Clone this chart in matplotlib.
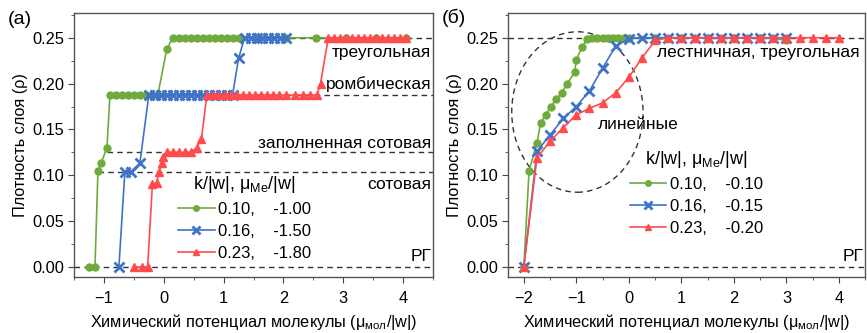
import numpy as np
import matplotlib
matplotlib.use("Agg")
import matplotlib.pyplot as plt
from matplotlib.patches import Ellipse
from matplotlib.ticker import MultipleLocator

plt.rcParams["font.family"] = ["Liberation Sans", "DejaVu Sans"]
plt.rcParams["mathtext.fontset"] = "custom"
plt.rcParams["mathtext.rm"] = "Liberation Sans"
plt.rcParams["mathtext.it"] = "Liberation Sans"
plt.rcParams["mathtext.default"] = "regular"

GREEN = "#6FAB3C"
BLUE = "#3F73C8"
RED = "#FF4B4E"

# ---- panel (a) data ----
a_green_x = [-1.25, -1.15, -1.1, -1.05, -0.95,
             -0.9, -0.8, -0.7, -0.6, -0.5, -0.4, -0.3, -0.2, -0.1,
             0.05,
             0.15, 0.25, 0.35, 0.45, 0.55, 0.65, 0.75, 0.85, 0.95, 1.05, 1.15, 1.25,
             1.55, 2.05, 2.55, 3.05, 3.55, 4.05]
a_green_y = [0, 0, 0.105, 0.113, 0.13,
             0.1875, 0.1875, 0.1875, 0.1875, 0.1875, 0.1875, 0.1875, 0.1875, 0.1875,
             0.2375,
             0.25, 0.25, 0.25, 0.25, 0.25, 0.25, 0.25, 0.25, 0.25, 0.25, 0.25, 0.25,
             0.25, 0.25, 0.25, 0.25, 0.25, 0.25]

a_blue_x = [-0.75, -0.65, -0.55, -0.4,
            -0.25, -0.15, -0.05, 0.05, 0.15, 0.25, 0.35, 0.45, 0.55, 0.65, 0.75,
            0.85, 0.95, 1.05, 1.15,
            1.25,
            1.35, 1.45, 1.55, 1.65, 1.75, 1.85, 1.95, 2.05]
a_blue_y = [0, 0.104, 0.104, 0.113,
            0.1875, 0.1875, 0.1875, 0.1875, 0.1875, 0.1875, 0.1875, 0.1875, 0.1875,
            0.1875, 0.1875, 0.1875, 0.1875, 0.1875, 0.1875,
            0.2275,
            0.25, 0.25, 0.25, 0.25, 0.25, 0.25, 0.25, 0.25]

a_red_x = [-0.5, -0.37, -0.27, -0.19, -0.12, -0.08, -0.03, -0.01,
           0.05, 0.15, 0.25, 0.35, 0.45, 0.55, 0.63,
           0.72, 0.82, 0.92, 1.02, 1.12, 1.22, 1.32, 1.42, 1.52, 1.62, 1.72,
           1.82, 1.92, 2.05, 2.2, 2.32, 2.45, 2.56,
           2.62,
           2.75, 2.85, 2.95, 3.05, 3.15, 3.25, 3.35, 3.45, 3.55, 3.65, 3.75,
           3.85, 3.95, 4.05]
a_red_y = [0, 0, 0, 0.09, 0.092, 0.104, 0.113, 0.12,
           0.125, 0.125, 0.125, 0.125, 0.125, 0.13, 0.14,
           0.1875, 0.1875, 0.1875, 0.1875, 0.1875, 0.1875, 0.1875, 0.1875, 0.1875,
           0.1875, 0.1875, 0.1875, 0.1875, 0.1875, 0.1875, 0.1875, 0.1875, 0.1875,
           0.2,
           0.25, 0.25, 0.25, 0.25, 0.25, 0.25, 0.25, 0.25, 0.25, 0.25, 0.25,
           0.25, 0.25, 0.25]

a_levels = [0.25, 0.1875, 0.125, 0.104, 0.0]
a_level_start = [0.15, -0.9, -0.95, -1.1, -1.5]
a_level_names = ["треугольная", "ромбическая", "заполненная сотовая", "сотовая", "РГ"]
a_name_y = [0.234, 0.199, 0.135, 0.09, 0.011]
a_legend = ["0.10,    -1.00", "0.16,    -1.50", "0.23,    -1.80"]

# ---- panel (б) data ----
b_green_x = [-2.0, -1.9, -1.75, -1.68, -1.58, -1.49, -1.38, -1.28, -1.17, -1.03, -1.0,
             -0.89, -0.79, -0.7, -0.6, -0.5, -0.4, -0.3, -0.2, -0.1, 0.0,
             0.5, 1.0, 1.5, 2.0, 2.5, 3.0]
b_green_y = [0, 0.105, 0.135, 0.157, 0.166, 0.175, 0.183, 0.190, 0.200, 0.213, 0.226,
             0.240, 0.249, 0.25, 0.25, 0.25, 0.25, 0.25, 0.25, 0.25, 0.25,
             0.25, 0.25, 0.25, 0.25, 0.25, 0.2475]

b_blue_x = [-2.0, -1.75, -1.5, -1.25, -1.0, -0.75, -0.5, -0.25, 0.0,
            0.25, 0.5, 0.75, 1.0, 1.25, 1.5, 1.75, 2.0, 2.25, 2.5, 2.75, 3.0]
b_blue_y = [0, 0.126, 0.144, 0.162, 0.175, 0.192, 0.217, 0.241, 0.249,
            0.25, 0.25, 0.25, 0.25, 0.25, 0.25, 0.25, 0.25, 0.25, 0.25, 0.25, 0.25]

b_red_x = [-2.0, -1.75, -1.5, -1.25, -1.0, -0.75, -0.5, -0.25, 0.0, 0.25, 0.5,
           0.75, 1.0, 1.25, 1.5, 1.75, 2.0, 2.25, 2.5, 2.75, 3.0, 3.25, 3.5, 3.75, 4.0]
b_red_y = [0, 0.119, 0.137, 0.152, 0.166, 0.173, 0.179, 0.190, 0.207, 0.228, 0.247,
           0.25, 0.25, 0.25, 0.25, 0.25, 0.25, 0.25, 0.25, 0.25, 0.25, 0.25, 0.25, 0.25, 0.25]
b_legend = ["0.10,    -0.10", "0.16,    -0.15", "0.23,    -0.20"]

TICK_FS = 11.8
LABEL_FS = 11.7
NOTE_FS = 12.5
LEG_FS = 12
TITLE_FS = 13
PANEL_FS = 14
legend_title = r"k/|w|, $\mu_{Me}$/|w|"
xlabel = r"Химический потенциал молекулы ($\mu_{мол}$/|w|)"
ylabel = "Плотность слоя (ρ)"


def style_axis(ax, xlim, xticks):
    ax.set_xlim(*xlim)
    ax.set_ylim(-0.011, 0.277)
    ax.set_xticks(xticks)
    ax.set_yticks([0, 0.05, 0.10, 0.15, 0.20, 0.25])
    ax.xaxis.set_minor_locator(MultipleLocator(0.5))
    ax.yaxis.set_minor_locator(MultipleLocator(0.025))
    ax.tick_params(which="both", direction="out", top=False, right=False,
                   labelsize=TICK_FS, color="#444444")
    ax.tick_params(axis="x", pad=6)
    ax.tick_params(axis="y", pad=3)
    ax.tick_params(which="major", length=4)
    ax.tick_params(which="minor", length=2.5)
    for s in ax.spines.values():
        s.set_color("#555555")
        s.set_linewidth(1.0)
    ax.set_xlabel(xlabel, fontsize=LABEL_FS, labelpad=4)
    ax.set_ylabel(ylabel, fontsize=LABEL_FS, labelpad=3)


def plot_series(ax, gx, gy, bx, by, rx, ry, labels):
    ax.plot(gx, gy, "-o", color=GREEN, ms=5, lw=1.2, label=labels[0], zorder=3)
    ax.plot(bx, by, "-x", color=BLUE, ms=7, mew=2, lw=1.2, label=labels[1], zorder=4)
    ax.plot(rx, ry, "-^", color=RED, ms=6, lw=1.2, label=labels[2], zorder=5)


def add_legend(ax, anchor):
    ax.legend(loc="upper left", bbox_to_anchor=anchor, frameon=False, fontsize=LEG_FS,
              title=legend_title, title_fontsize=TITLE_FS, handlelength=2.2,
              handletextpad=0.2, labelspacing=0.42, borderaxespad=0, borderpad=0,
              markerscale=0.8)


fig = plt.figure(figsize=(8.67, 3.33), dpi=100)
ax1 = fig.add_axes([0.0854, 0.168, 0.414, 0.793])
ax2 = fig.add_axes([0.586, 0.168, 0.412, 0.793])

# panel (a)
for lev, x0 in zip(a_levels, a_level_start):
    ax1.plot([x0, 4.5], [lev, lev], ls=(0, (4, 3)), color="#333333", lw=1.0, zorder=1)
plot_series(ax1, a_green_x, a_green_y, a_blue_x, a_blue_y, a_red_x, a_red_y, a_legend)
for name, yy in zip(a_level_names, a_name_y):
    ax1.text(4.47, yy, name, ha="right", va="center", fontsize=NOTE_FS)
style_axis(ax1, (-1.5, 4.5), [-1, 0, 1, 2, 3, 4])
add_legend(ax1, (0.29, 0.39))
fig.text(0.009, 0.94, "(a)", fontsize=PANEL_FS, va="center")

# panel (б)
ax2.plot([-2.3, 4.5], [0.25, 0.25], ls=(0, (4, 3)), color="#333333", lw=1.0, zorder=1)
ax2.plot([-2.3, 4.5], [0.0, 0.0], ls=(0, (4, 3)), color="#333333", lw=1.0, zorder=1)
plot_series(ax2, b_green_x, b_green_y, b_blue_x, b_blue_y, b_red_x, b_red_y, b_legend)
ax2.add_patch(Ellipse((-0.98, 0.169), 2.5, 0.175, fill=False, ls=(0, (4, 3)),
                      color="#333333", lw=1.0, zorder=2))
ax2.text(0.53, 0.234, "лестничная, треугольная", ha="left", va="center", fontsize=NOTE_FS)
ax2.text(0.17, 0.155, "линейные", ha="center", va="center", fontsize=NOTE_FS)
ax2.text(4.47, 0.011, "РГ", ha="right", va="center", fontsize=NOTE_FS)
style_axis(ax2, (-2.3, 4.5), [-2, -1, 0, 1, 2, 3, 4])
add_legend(ax2, (0.34, 0.485))
fig.text(0.51, 0.945, "(б)", fontsize=PANEL_FS, va="center")

fig.savefig("out.png", dpi=100)
